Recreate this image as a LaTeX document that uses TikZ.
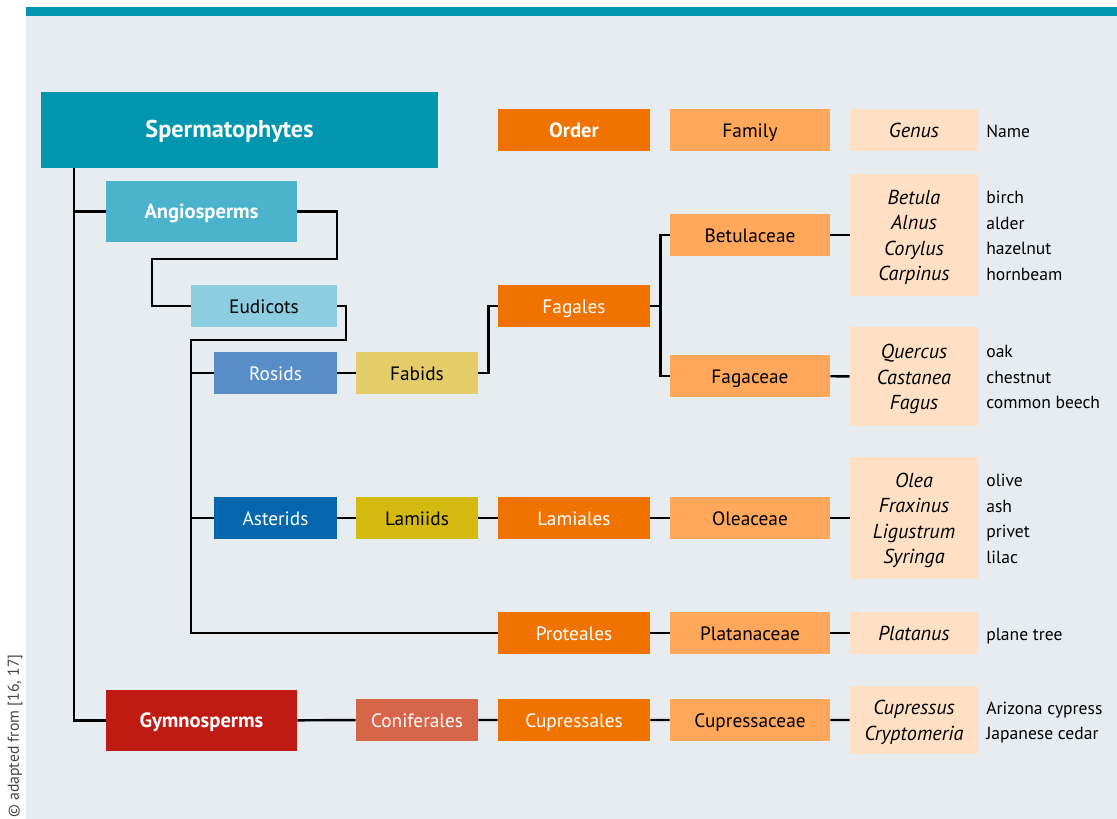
\documentclass[tikz,border=0pt]{standalone}
\usepackage{fontspec}
\setmainfont{PT Sans}
\definecolor{tealC}{HTML}{0096B0}
\definecolor{panelC}{HTML}{E7ECF1}
\definecolor{angioC}{HTML}{4BB3CB}
\definecolor{eudiC}{HTML}{8DCDE0}
\definecolor{rosidC}{HTML}{598DC8}
\definecolor{asterC}{HTML}{0467AE}
\definecolor{fabidC}{HTML}{E4CD69}
\definecolor{lamiidC}{HTML}{D4B90F}
\definecolor{gymnoC}{HTML}{C01B12}
\definecolor{conifC}{HTML}{D6654A}
\definecolor{ordC}{HTML}{F07300}
\definecolor{famC}{HTML}{FFA75B}
\definecolor{genC}{HTML}{FFE0C5}
\definecolor{noteC}{HTML}{444444}
\newcommand{\vlist}[1]{\rule{0pt}{\dimexpr1ex+6.8pt\relax}#1\rule[-4pt]{0pt}{4pt}}
\begin{document}
\begin{tikzpicture}[x=0.02cm,y=-0.02cm,
  box/.style={minimum height=0.84cm,inner sep=0pt,text height=1.6ex,text depth=0pt,
    font=\fontsize{11}{13}\selectfont},
  cladeL/.style={box,minimum width=3.82cm,minimum height=1.22cm,text=white,
    font=\fontsize{11.7}{14}\selectfont\bfseries},
  cladeS/.style={box,minimum width=2.46cm},
  cladeM/.style={box,minimum width=2.44cm},
  ordbox/.style={box,minimum width=3.04cm,fill=ordC,text=white},
  fambox/.style={box,minimum width=3.2cm,fill=famC},
  genbox/.style={box,minimum width=2.56cm,fill=genC,font=\fontsize{11.5}{14.55}\selectfont\itshape},
  genlist/.style={minimum width=2.56cm,inner sep=0pt,fill=genC,align=center,
    font=\fontsize{11.5}{14.55}\selectfont\itshape},
  namelbl/.style={anchor=west,inner sep=0pt,text height=1.6ex,text depth=0pt,
    font=\fontsize{10}{14.55}\selectfont},
  namelist/.style={anchor=west,inner sep=0pt,align=left,font=\fontsize{10}{14.55}\selectfont},
  link/.style={line width=1.4pt}]
  \useasboundingbox (0,0) rectangle (1117,819);
  \fill[panelC] (26,16) rectangle (1117,819);
  \fill[tealC] (26,7) rectangle (1117,16);
  \node[rotate=90,text=noteC,font=\fontsize{9}{10}\selectfont] (note) at (15,736) {© adapted from [16, 17]};

  \node[box,minimum width=7.94cm,minimum height=1.52cm,fill=tealC,text=white,font=\fontsize{13.8}{16}\selectfont\bfseries] (sperm) at (239.5,130) {\hspace*{-0.4cm}Spermatophytes};
  \node[cladeL,fill=angioC] (angio) at (201.5,211.5) {Angiosperms};
  \node[cladeL,fill=gymnoC] (gymno) at (201.5,720.5) {Gymnosperms};
  \node[box,minimum width=2.92cm,fill=eudiC] (eudi) at (264,306) {Eudicots};
  \node[cladeS,fill=rosidC,text=white] (rosids) at (275.5,373) {Rosids};
  \node[cladeS,fill=asterC,text=white] (aster) at (275.5,518) {Asterids};
  \node[cladeM,fill=fabidC] (fabids) at (417,373) {Fabids};
  \node[cladeM,fill=lamiidC] (lamiids) at (417,518) {Lamiids};
  \node[cladeM,fill=conifC,text=white] (conif) at (417,720) {Coniferales};

  \node[ordbox,font=\fontsize{11.7}{14}\selectfont\bfseries] (order) at (574,130) {Order};
  \node[ordbox] (fagales) at (574,306) {Fagales};
  \node[ordbox] (lamiales) at (574,518) {Lamiales};
  \node[ordbox] (prot) at (574,633) {Proteales};
  \node[ordbox] (cupales) at (574,720) {Cupressales};

  \node[fambox] (family) at (750,130) {Family};
  \node[fambox] (betul) at (750,235) {Betulaceae};
  \node[fambox] (fagac) at (750,376) {Fagaceae};
  \node[fambox] (oleac) at (750,518) {Oleaceae};
  \node[fambox] (platac) at (750,633) {Platanaceae};
  \node[fambox] (cupac) at (750,720) {Cupressaceae};

  \node[genbox] (genus) at (914,130) {Genus};
  \node[genlist,minimum height=2.44cm] (gBetula) at (914,235) {\vlist{Betula\\Alnus\\Corylus\\Carpinus}};
  \node[genlist,minimum height=1.98cm] (gQuercus) at (914,376.5) {\vlist{Quercus\\Castanea\\Fagus}};
  \node[genlist,minimum height=2.44cm] (gOlea) at (914,518) {\vlist{Olea\\Fraxinus\\Ligustrum\\Syringa}};
  \node[genbox] (gPlatanus) at (914,633) {Platanus};
  \node[genlist,minimum height=1.36cm] (gCupressus) at (914,720) {\vlist{Cupressus\\Cryptomeria}};

  \node[namelbl] (nName) at (986,130) {Name};
  \node[namelist] (nBetula) at (986,235) {\vlist{birch\\alder\\hazelnut\\hornbeam}};
  \node[namelist] (nQuercus) at (986,376.5) {\vlist{oak\\chestnut\\common beech}};
  \node[namelist] (nOlea) at (986,518) {\vlist{olive\\ash\\privet\\lilac}};
  \node[namelbl] (nPlatanus) at (986,633) {plane tree};
  \node[namelist] (nCupressus) at (986,720) {\vlist{Arizona cypress\\Japanese cedar}};

  \coordinate (jS) at (74,168);
  \coordinate (jA) at (337,259);
  \coordinate (jB) at (152,259);
  \coordinate (jC) at (346,340);
  \coordinate (jD) at (191,340);
  \draw[link] (jS) |- (gymno.west);
  \draw[link] (jS |- angio.west) -- (angio.west);
  \draw[link] (angio.east) -| (jA) -- (jB) |- (eudi.west);
  \draw[link] (eudi.east) -| (jC) -- (jD) |- (prot.west);
  \draw[link] (jD |- rosids.west) -- (rosids.west);
  \draw[link] (jD |- aster.west) -- (aster.west);
  \draw[link] (rosids) -- (fabids);
  \draw[link] (fabids.east) -- ++(10,0) |- (fagales.west);
  \draw[link] (fagales.east) -- ++(10,0) coordinate (jF);
  \draw[link] (betul.west) -| (jF) |- (fagac.west);
  \draw[link] (betul) -- (gBetula);
  \draw[link] (fagac) -- (gQuercus);
  \draw[link] (aster) -- (lamiids) (lamiids) -- (lamiales) (lamiales) -- (oleac) (oleac) -- (gOlea);
  \draw[link] (prot) -- (platac) (platac) -- (gPlatanus);
  \draw[link] (gymno) -- (conif) (conif) -- (cupales) (cupales) -- (cupac) (cupac) -- (gCupressus);
\end{tikzpicture}
\end{document}
